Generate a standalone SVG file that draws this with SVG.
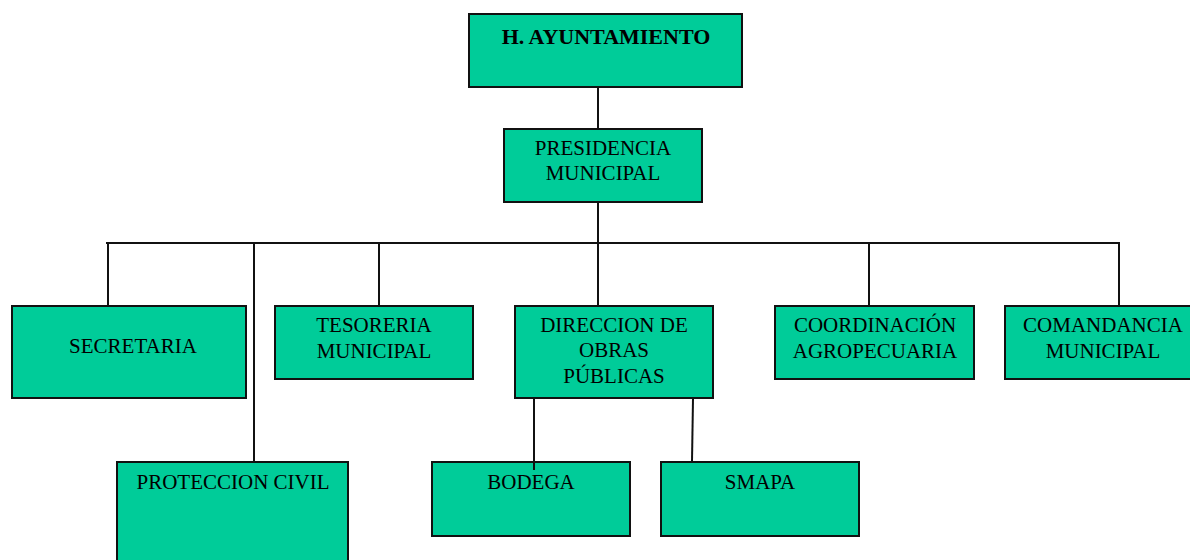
<svg xmlns="http://www.w3.org/2000/svg" width="1190" height="560" viewBox="0 0 1190 560">
<style>
.box{fill:#00CC99;stroke:#111;stroke-width:2}
.t{font-family:"Liberation Serif","Times New Roman",serif;font-size:21px;fill:#000;text-anchor:middle}
.b{font-weight:bold;font-size:22px}
.c{stroke:#111;stroke-width:2;fill:none}
</style>
<rect width="1190" height="560" fill="#fff"/>
<g id="ayuntamiento">
<rect class="box" x="469" y="14" width="273" height="73"/>
<text class="t b" x="606" y="44">H. AYUNTAMIENTO</text>
</g>
<g id="presidencia">
<rect class="box" x="504" y="129" width="198" height="73"/>
<text class="t" x="603" y="155">PRESIDENCIA</text>
<text class="t" x="603" y="180">MUNICIPAL</text>
</g>
<g id="secretaria">
<rect class="box" x="12" y="306" width="234" height="92"/>
<text class="t" x="133" y="353">SECRETARIA</text>
</g>
<g id="tesoreria">
<rect class="box" x="275" y="306" width="198" height="73"/>
<text class="t" x="374" y="332">TESORERIA</text>
<text class="t" x="374" y="358">MUNICIPAL</text>
</g>
<g id="direccion">
<rect class="box" x="515" y="306" width="198" height="92"/>
<text class="t" x="614" y="332">DIRECCION DE</text>
<text class="t" x="614" y="357">OBRAS</text>
<text class="t" x="614" y="383">PÚBLICAS</text>
</g>
<g id="coordinacion">
<rect class="box" x="775" y="306" width="199" height="73"/>
<text class="t" x="875" y="332">COORDINACIÓN</text>
<text class="t" x="875" y="358">AGROPECUARIA</text>
</g>
<g id="comandancia">
<rect class="box" x="1005" y="306" width="192" height="73"/>
<text class="t" x="1103" y="332">COMANDANCIA</text>
<text class="t" x="1103" y="358">MUNICIPAL</text>
</g>
<g id="proteccion">
<rect class="box" x="117" y="462" width="231" height="110"/>
<text class="t" x="233" y="489">PROTECCION CIVIL</text>
</g>
<g id="bodega">
<rect class="box" x="432" y="462" width="198" height="74"/>
<text class="t" x="531" y="489">BODEGA</text>
</g>
<g id="smapa">
<rect class="box" x="661" y="462" width="198" height="74"/>
<text class="t" x="760" y="489">SMAPA</text>
</g>
<g id="connectors">
<line class="c" x1="598" y1="88" x2="598" y2="128"/>
<line class="c" x1="598" y1="203" x2="598" y2="305"/>
<line class="c" x1="106" y1="243" x2="1120" y2="243"/>
<line class="c" x1="108" y1="243" x2="108" y2="305"/>
<line class="c" x1="254" y1="243" x2="254" y2="461"/>
<line class="c" x1="379" y1="243" x2="379" y2="305"/>
<line class="c" x1="869" y1="243" x2="869" y2="305"/>
<line class="c" x1="1119" y1="243" x2="1119" y2="305"/>
<line class="c" x1="534" y1="399" x2="534" y2="470"/>
<line class="c" x1="693" y1="399" x2="692" y2="461"/>
</g>
</svg>
